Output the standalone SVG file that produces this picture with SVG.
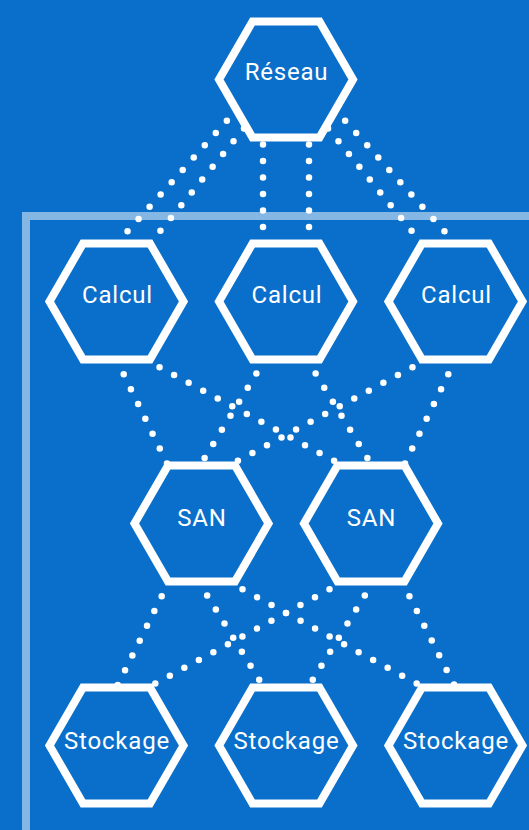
<svg xmlns="http://www.w3.org/2000/svg" xmlns:xlink="http://www.w3.org/1999/xlink" width="529" height="830" viewBox="0 0 529 830">
<style>
.bg{fill:#0a6fca}
.frame{fill:none;stroke:#ffffff;stroke-opacity:0.5;stroke-width:8}
.link{fill:none;stroke:#ffffff;stroke-width:6.5;stroke-linecap:round;stroke-dasharray:0 16.5}
.hex{fill:#0a6fca;stroke:#ffffff;stroke-width:8;stroke-linejoin:miter}
.lbl{fill:#ffffff;font-family:Roboto,"Liberation Sans",sans-serif;font-size:24px;letter-spacing:0.8px;text-anchor:middle}
</style>
<defs>
<polygon id="hexshape" points="-67,0 -33.5,-58 33.5,-58 67,0 33.5,58 -33.5,58"/>
</defs>
<rect class="bg" x="0" y="0" width="529" height="830"/>
<polyline class="frame" points="26,834 26,216 533,216"/>
<g id="connectors">
<line class="link" x1="116.5" y1="243.5" x2="264" y2="79.5"/>
<line class="link" x1="150" y1="243.5" x2="284" y2="79.5"/>
<line class="link" x1="263" y1="243.5" x2="263" y2="79.5"/>
<line class="link" x1="309" y1="243.5" x2="309" y2="79.5"/>
<line class="link" x1="422" y1="243.5" x2="288" y2="79.5"/>
<line class="link" x1="455.5" y1="243.5" x2="308" y2="79.5"/>
<line class="link" x1="116.5" y1="359.5" x2="168" y2="465.5"/>
<line class="link" x1="145" y1="359.5" x2="343" y2="465.5"/>
<line class="link" x1="265" y1="359.5" x2="200" y2="465.5"/>
<line class="link" x1="307" y1="359.5" x2="372" y2="465.5"/>
<line class="link" x1="427" y1="359.5" x2="229" y2="465.5"/>
<line class="link" x1="455.5" y1="359.5" x2="404" y2="465.5"/>
<line class="link" x1="169" y1="581.5" x2="116.5" y2="687.5"/>
<line class="link" x1="198.5" y1="581.5" x2="264" y2="687.5"/>
<line class="link" x1="228" y1="581.5" x2="424" y2="687.5"/>
<line class="link" x1="344" y1="581.5" x2="148" y2="687.5"/>
<line class="link" x1="373.5" y1="581.5" x2="308" y2="687.5"/>
<line class="link" x1="402" y1="581.5" x2="455.5" y2="687.5"/>
</g>
<g id="reseau"><use class="hex" xlink:href="#hexshape" x="286" y="79.5"/><text class="lbl" x="286.5" y="80">Réseau</text></g>
<g id="calcul1"><use class="hex" xlink:href="#hexshape" x="116.5" y="301.5"/><text class="lbl" x="117.5" y="302.5">Calcul</text></g>
<g id="calcul2"><use class="hex" xlink:href="#hexshape" x="286" y="301.5"/><text class="lbl" x="287" y="302.5">Calcul</text></g>
<g id="calcul3"><use class="hex" xlink:href="#hexshape" x="455.5" y="301.5"/><text class="lbl" x="456.5" y="302.5">Calcul</text></g>
<g id="san1"><use class="hex" xlink:href="#hexshape" x="201.5" y="523.5"/><text class="lbl" x="202" y="526">SAN</text></g>
<g id="san2"><use class="hex" xlink:href="#hexshape" x="371" y="523.5"/><text class="lbl" x="371.5" y="526">SAN</text></g>
<g id="stockage1"><use class="hex" xlink:href="#hexshape" x="116.5" y="745.5"/><text class="lbl" x="117" y="749">Stockage</text></g>
<g id="stockage2"><use class="hex" xlink:href="#hexshape" x="286" y="745.5"/><text class="lbl" x="286.5" y="749">Stockage</text></g>
<g id="stockage3"><use class="hex" xlink:href="#hexshape" x="455.5" y="745.5"/><text class="lbl" x="456" y="749">Stockage</text></g>
</svg>
